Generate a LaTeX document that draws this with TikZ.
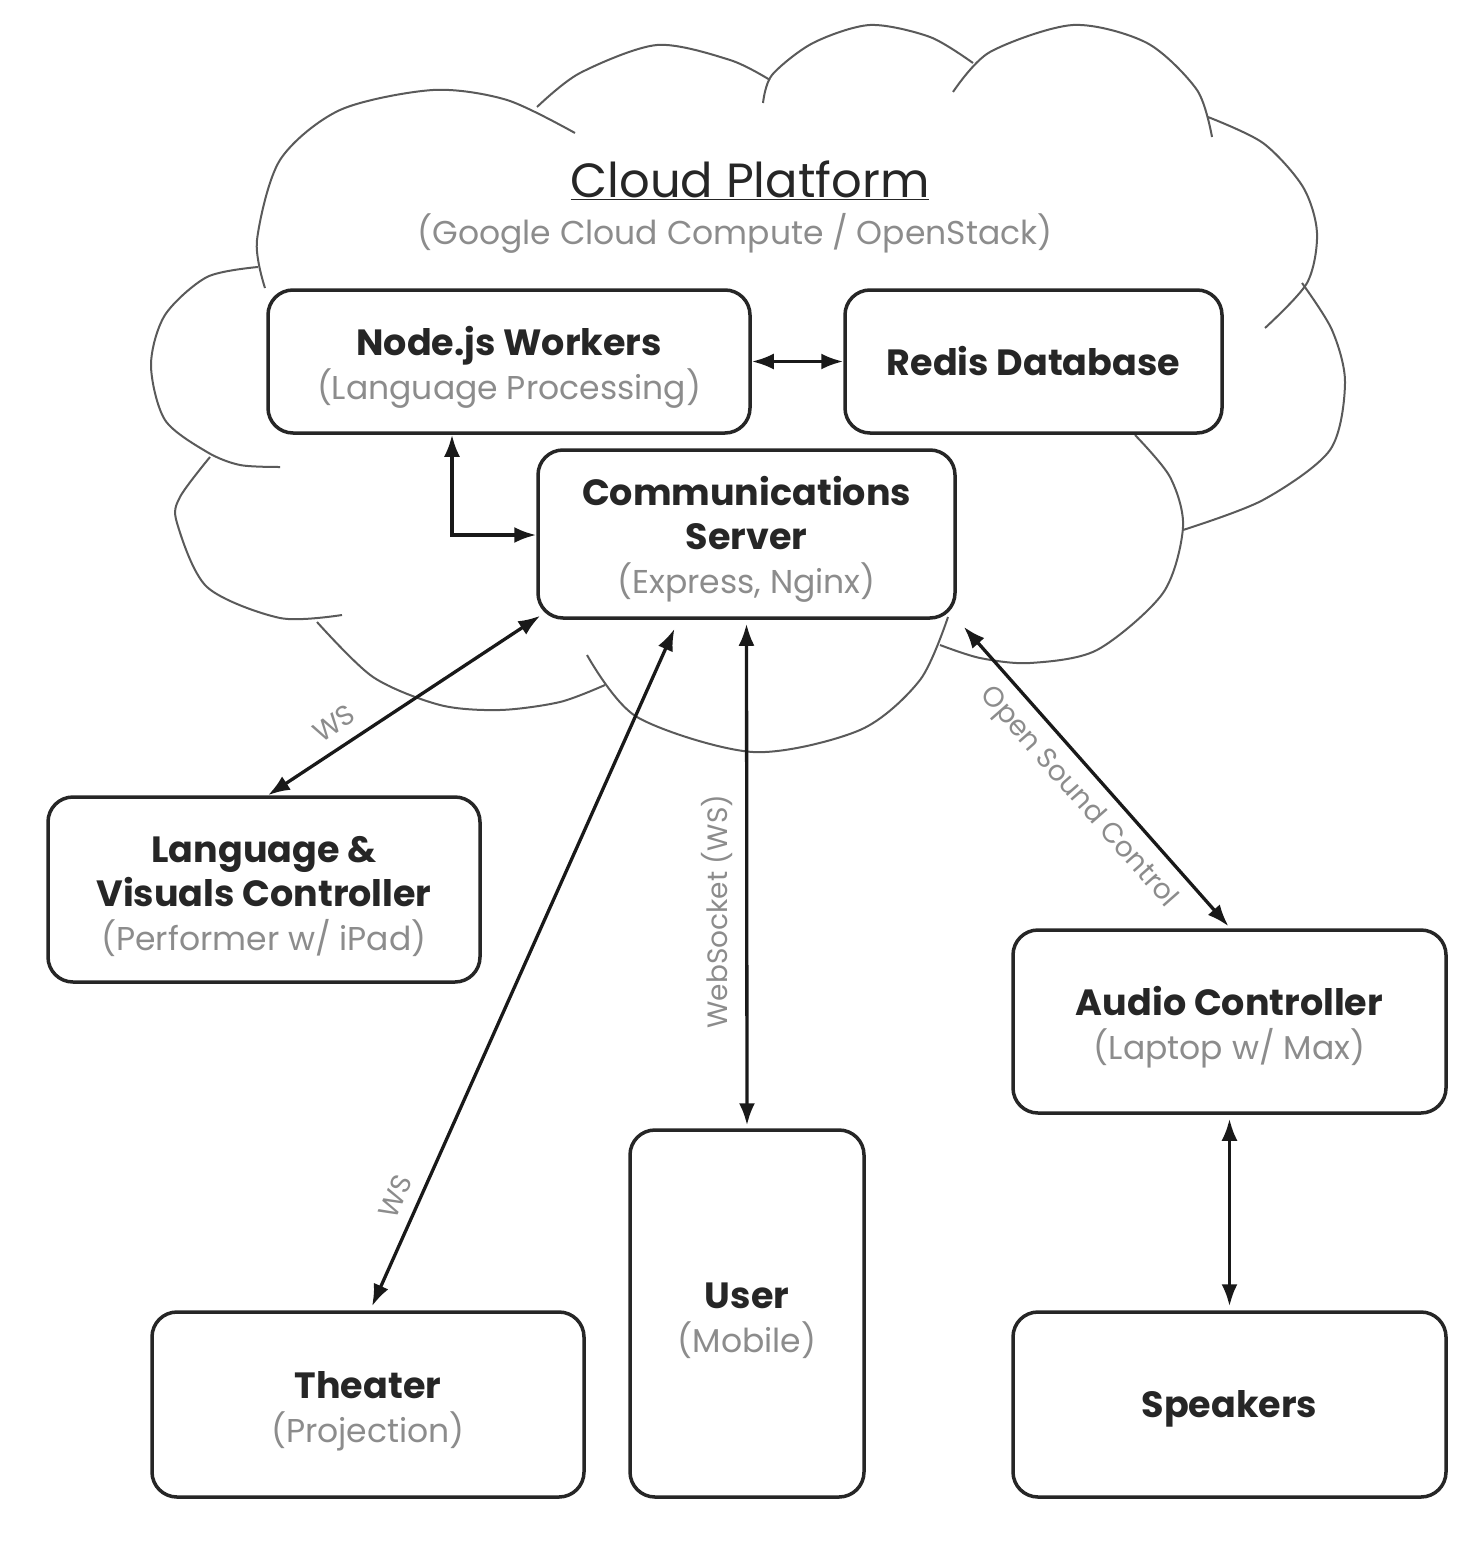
\documentclass[tikz,border=0pt]{standalone}
\usepackage{fontspec}
\setmainfont{Poppins}
\usetikzlibrary{arrows.meta,calc}
\definecolor{boxline}{HTML}{262626}
\definecolor{subgray}{HTML}{8C8C8C}
\definecolor{cloudline}{HTML}{5A5A5A}
\tikzset{
  box/.style={draw=boxline, line width=3.5pt, rounded corners=25pt, fill=white,
    align=center, inner sep=0pt, text=boxline, font=\fontsize{34}{44}\selectfont},
  lowertext/.style={execute at begin node={\rule{0pt}{#1}}},
  conn/.style={draw=black!90, line width=3.3pt,
    {Latex[length=22pt,width=16pt]}-{Latex[length=22pt,width=16pt]}},
  lbl/.style={text=subgray, font=\fontsize{28}{32}\selectfont, inner sep=12pt},
  cloud/.style={draw=cloudline, line width=2pt},
}
\newcommand\ttl[1]{{\fontsize{36.5}{44}\selectfont\bfseries #1}}
\newcommand\topttl[1]{{\fontsize{36.5}{44}\selectfont\bfseries\rule{0pt}{40pt}#1}}
\newcommand\subtxt[1]{{\fontsize{33}{44}\selectfont\color{subgray}#1}}
\begin{document}
\begin{tikzpicture}[x=1pt,y=-1pt]
\useasboundingbox (0,0) rectangle (1478,1544);
% cloud lobes
\draw[cloud] plot[smooth] coordinates {(265,288) (257,240) (280,160) (340,110) (433,90) (507,100) (575,133)};
\draw[cloud] plot[smooth] coordinates {(537,107) (580,73) (657,45) (730,60) (770,80)};
\draw[cloud] plot[smooth] coordinates {(763,103) (772,75) (813,43) (870,25) (930,37) (973,63)};
\draw[cloud] plot[smooth] coordinates {(953,92) (990,52) (1073,25) (1147,43) (1197,90) (1212,137)};
\draw[cloud] plot[smooth] coordinates {(1208,117) (1263,143) (1303,187) (1317,233) (1307,283) (1265,328)};
\draw[cloud] plot[smooth] coordinates {(1302,283) (1332,330) (1345,383) (1330,450) (1263,500) (1183,530)};
\draw[cloud] plot[smooth] coordinates {(1135,435) (1170,477) (1183,527) (1163,593) (1097,650) (1030,663) (980,658) (940,645)};
\draw[cloud] plot[smooth] coordinates {(948,617) (920,680) (860,730) (753,752) (637,717) (587,655)};
\draw[cloud] plot[smooth] coordinates {(317,622) (373,677) (440,705) (500,710) (560,702) (605,685)};
\draw[cloud] plot[smooth] coordinates {(210,457) (180,497) (177,523) (207,587) (280,618) (342,615)};
\draw[cloud] plot[smooth] coordinates {(258,267) (207,277) (165,315) (151,365) (165,420) (207,452) (240,465) (280,467)};
% cloud titles
\node[text=boxline] (title) at (750,180) {\fontsize{48}{54}\selectfont\underline{Cloud Platform}};
\node[text=subgray] (titlesub) at (735,233) {\fontsize{33}{36}\selectfont (Google Cloud Compute / OpenStack)};
% boxes
\node[box, minimum width=482pt, minimum height=143pt] (nodejs) at (509,361.5)
  {\topttl{Node.js Workers}\\\subtxt{(Language Processing)}};
\node[box, minimum width=377pt, minimum height=143pt] (redis) at (1033.5,361.5)
  {\ttl{Redis Database}};
\node[box, minimum width=417pt, minimum height=168pt] (comm) at (746.5,534)
  {\topttl{Communications}\\\ttl{Server}\\\subtxt{(Express, Nginx)}};
\node[box, minimum width=432pt, minimum height=185pt] (lang) at (264,889.5)
  {\topttl{Language \&}\\\ttl{Visuals Controller}\\\subtxt{(Performer w/ iPad)}};
\node[box, minimum width=433pt, minimum height=183pt] (audio) at (1229.5,1021.5)
  {\topttl{Audio Controller}\\\subtxt{(Laptop w/ Max)}};
\node[box, minimum width=432pt, minimum height=185pt] (theater) at (368,1404.5)
  {\topttl{Theater}\\\subtxt{(Projection)}};
\node[box, minimum width=234pt, minimum height=367pt] (user) at (747,1313.5)
  {\topttl{User}\\\subtxt{(Mobile)}};
\node[box, lowertext=36pt, minimum width=433pt, minimum height=185pt] (speakers) at (1229.5,1404.5)
  {\ttl{Speakers}};
% connectors
\draw[conn] (nodejs.east) -- (redis.west);
\coordinate (elb) at (452,535);
\draw[conn] (elb |- nodejs.south) -- (elb) -- (elb -| comm.west);
\draw[conn] ($(comm.south west)+(4,-4)$) -- ($(lang.north)+(4,0)$)
  node[lbl, pos=0.71, rotate=33.4, anchor=south] {WS};
\draw[conn] ($(comm.south)+(-72,9)$) -- ($(theater.north)+(4,-4)$)
  node[lbl, pos=0.852, rotate=66, anchor=south] {WS};
\draw[conn, shorten <=4pt, shorten >=3pt] (comm.south) -- (user.north)
  node[lbl, pos=0.574, rotate=90, anchor=south] {WebSocket (WS)};
\draw[conn] ($(comm.south east)+(7,7)$) -- ($(audio.north)+(-1,-2)$)
  node[lbl, pos=0.51, rotate=-48.7, anchor=north] {Open Sound Control};
\draw[conn, shorten <=4pt, shorten >=4pt] (audio.south) -- (speakers.north);
\end{tikzpicture}
\end{document}
